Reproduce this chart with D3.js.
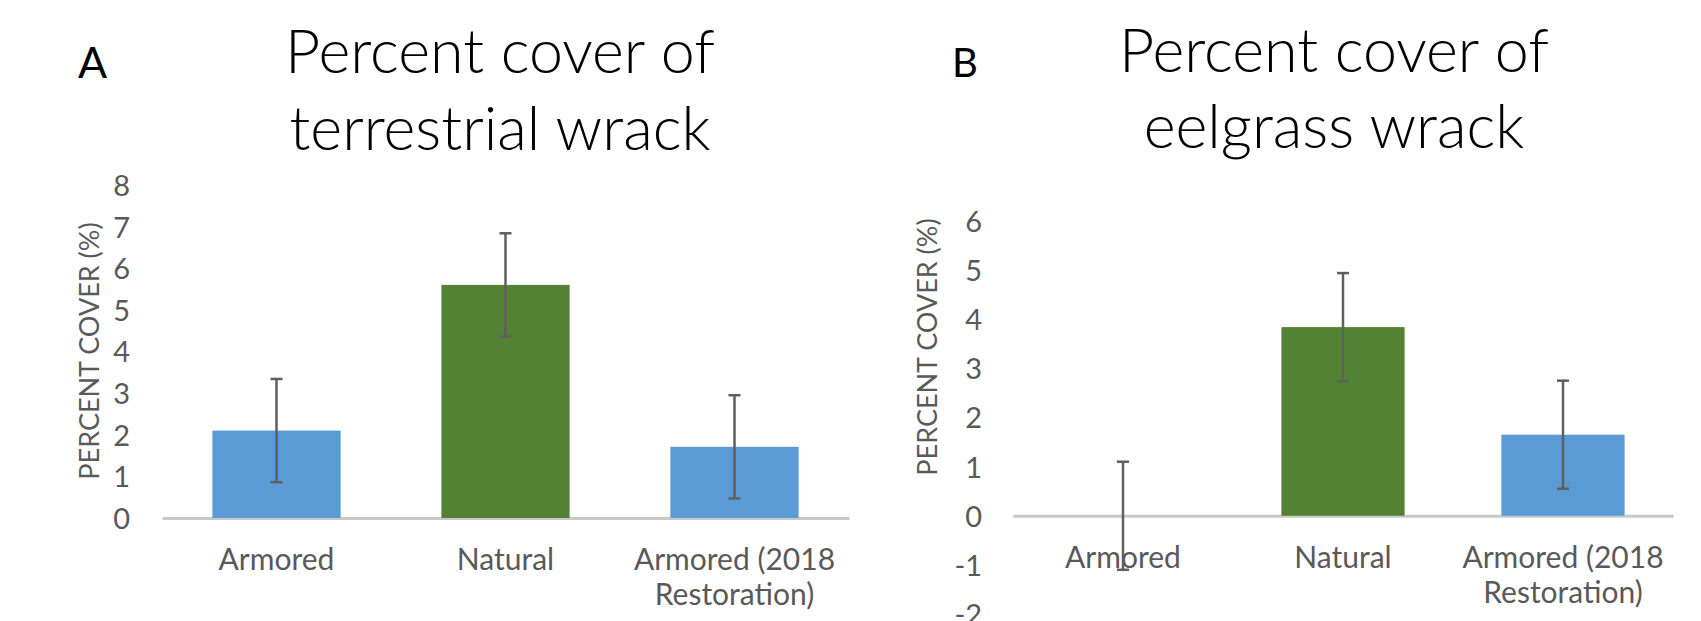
<!DOCTYPE html>
<html>
<head>
<meta charset="utf-8">
<script src="https://cdn.jsdelivr.net/npm/d3@7"></script>
<style>
  html, body { margin: 0; padding: 0; background: #fff; }
  svg { display: block; font-family: Lato, "Open Sans", sans-serif; }
</style>
</head>
<body>
<svg id="chart" width="1701" height="621"></svg>
<script>
// values
const categories = ["Armored", "Natural", "Armored (2018 Restoration)"];
const categoryLines = [["Armored"], ["Natural"], ["Armored (2018", "Restoration)"]];

const terrestrialCover = [2.1, 5.6, 1.71];
const terrestrialError = [1.24, 1.24, 1.24];
const terrestrialTicks = [0, 1, 2, 3, 4, 5, 6, 7, 8];

const eelgrassCover = [0, 3.84, 1.65];
const eelgrassError = [1.1, 1.1, 1.1];
const eelgrassTicks = [-2, -1, 0, 1, 2, 3, 4, 5, 6];

const blue = '#5b9bd5';
const green = '#548235';
const textGrey = '#595959';
const barFill = (d) => d === "Natural" ? green : blue;

const svg = d3.select('#chart');

function drawPanel (opts) {
  const g = svg.append('g');

  const x = d3.scaleBand()
    .domain(categories)
    .range(opts.xRange)
    .paddingInner(0.44)
    .paddingOuter(0.22);

  const y = d3.scaleLinear()
    .domain(d3.extent(opts.ticks))
    .range(opts.yRange);

  // y axis: labels only, plain hyphen for negatives
  const yAxis = g.append('g')
    .attr('transform', `translate(${opts.yLabelX},0)`)
    .call(d3.axisLeft(y).tickValues(opts.ticks).tickFormat((d) => String(d)).tickSize(0).tickPadding(0))
    .attr('font-family', null)
    .attr('font-size', null);
  yAxis.select('.domain').remove();
  yAxis.selectAll('text')
    .attr('fill', textGrey)
    .attr('font-size', 29)
    .attr('dy', '0.36em');

  // x axis sits on zero
  const xAxis = g.append('g')
    .attr('transform', `translate(0,${y(0)})`)
    .call(d3.axisBottom(x).tickSize(0).tickSizeOuter(0).tickPadding(0).tickFormat(''))
    .attr('font-family', null)
    .attr('font-size', null);
  xAxis.select('.domain')
    .attr('stroke', '#c8c8c8')
    .attr('stroke-width', 3);

  xAxis.selectAll('.tick text').remove();
  xAxis.selectAll('.tick')
    .append('text')
    .attr('fill', textGrey)
    .attr('font-size', 30)
    .attr('text-anchor', 'middle')
    .selectAll('tspan')
    .data((d) => categoryLines[categories.indexOf(d)])
    .join('tspan')
      .attr('x', 0)
      .attr('y', (d, i) => opts.labelOffset + i * 35)
      .text((d) => d);

  // bars
  g.append('g')
    .selectAll('rect')
    .data(categories)
    .join('rect')
      .attr('x', (d) => x(d))
      .attr('width', x.bandwidth())
      .attr('y', (d, i) => y(Math.max(0, opts.values[i])))
      .attr('height', (d, i) => Math.abs(y(opts.values[i]) - y(0)))
      .attr('fill', barFill);

  // error bars
  const cx = (d) => x(d) + x.bandwidth() / 2;
  const err = g.append('g')
    .attr('stroke', '#5f5f5f')
    .attr('stroke-width', 2.5)
    .selectAll('g')
    .data(categories)
    .join('g');

  err.append('line')
    .attr('x1', cx).attr('x2', cx)
    .attr('y1', (d, i) => y(opts.values[i] + opts.errors[i]))
    .attr('y2', (d, i) => y(opts.values[i] - opts.errors[i]));

  [1, -1].forEach((s) => {
    err.append('line')
      .attr('x1', (d) => cx(d) - 6).attr('x2', (d) => cx(d) + 6)
      .attr('y1', (d, i) => y(opts.values[i] + s * opts.errors[i]))
      .attr('y2', (d, i) => y(opts.values[i] + s * opts.errors[i]));
  });

  // axis title
  g.append('text')
    .attr('transform', `translate(${opts.yTitle[0]},${opts.yTitle[1]}) rotate(-90)`)
    .attr('text-anchor', 'middle')
    .attr('dy', '0.35em')
    .attr('fill', textGrey)
    .attr('font-size', 27)
    .text('PERCENT COVER (%)');

  // chart title, two lines
  g.append('text')
    .attr('text-anchor', 'middle')
    .attr('font-size', 61)
    .attr('font-weight', 300)
    .attr('fill', '#000')
    .selectAll('tspan')
    .data(opts.title)
    .join('tspan')
      .attr('x', opts.titleX)
      .attr('y', (d, i) => opts.titleY[i])
      .text((d) => d);

  // panel letter
  g.append('text')
    .attr('x', opts.letterPos[0])
    .attr('y', opts.letterPos[1])
    .attr('font-size', opts.letterSize)
    .attr('fill', '#000')
    .text(opts.letter);
}

drawPanel({
  values: terrestrialCover,
  errors: terrestrialError,
  ticks: terrestrialTicks,
  xRange: [162, 849],
  yRange: [518, 185],
  yLabelX: 130,
  labelOffset: 52,
  yTitle: [90, 351],
  title: ["Percent cover of", "terrestrial wrack"],
  titleX: 500,
  titleY: [73, 150],
  letter: 'A',
  letterPos: [78, 78],
  letterSize: 43
});

drawPanel({
  values: eelgrassCover,
  errors: eelgrassError,
  ticks: eelgrassTicks,
  xRange: [1013, 1673],
  yRange: [614, 221],
  yLabelX: 982,
  labelOffset: 52,
  yTitle: [928, 347],
  title: ["Percent cover of", "eelgrass wrack"],
  titleX: 1334,
  titleY: [72, 148],
  letter: 'B',
  letterPos: [952, 77],
  letterSize: 40
});
</script>
</body>
</html>
